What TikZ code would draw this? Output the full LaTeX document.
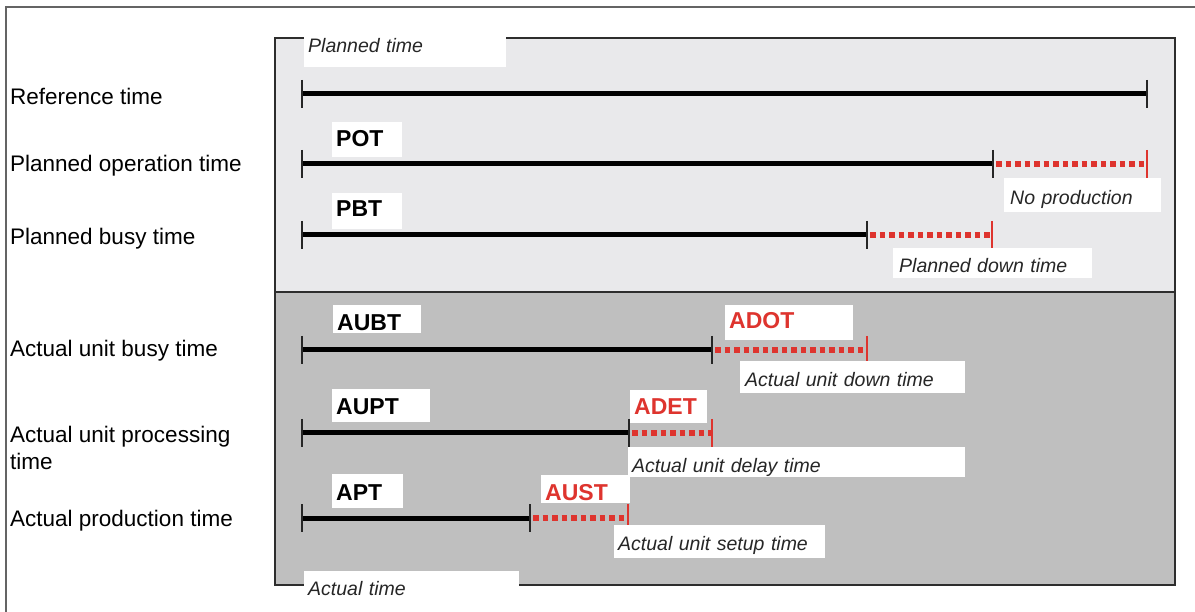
\documentclass[tikz,border=0pt]{standalone}
\usepackage{fontspec}
\setmainfont{Liberation Sans}
\begin{document}
\definecolor{planfill}{RGB}{233,233,235}
\definecolor{actfill}{RGB}{191,191,191}
\definecolor{lossred}{RGB}{222,52,46}
\definecolor{framegray}{RGB}{100,100,100}
\definecolor{boxedge}{RGB}{45,45,45}
\begin{tikzpicture}[x=1pt,y=-1pt,
  rowlabel/.style={anchor=base west, inner sep=0pt, font=\fontsize{22.5}{27}\selectfont, align=left},
  tag/.style={fill=white, inner xsep=4pt, inner ysep=0pt, anchor=base west, align=left},
  abbr/.style={tag, font=\fontsize{23}{26}\selectfont\bfseries},
  lossabbr/.style={abbr, text=lossred},
  note/.style={tag, font=\fontsize{19.5}{22}\selectfont\itshape, text=black!85},
  solidbar/.style={line width=5pt, black},
  lossbar/.style={line width=5.5pt, lossred, dash pattern=on 5.5pt off 4pt, dash phase=-3pt},
  tick/.style={line width=2pt, black!85},
  losstick/.style={line width=2pt, lossred}]
\useasboundingbox (0,0) rectangle (1195,612);

% outer frame
\draw[framegray, line width=2pt] (6,620) -- (6,7) -- (1200,7);

% planned and actual panels
\fill[planfill] (275,38) rectangle (1175,292);
\fill[actfill] (275,292) rectangle (1175,585);
\draw[boxedge, line width=2.5pt] (275,38) rectangle (1175,585);
\draw[boxedge, line width=2.5pt] (275,292) -- (1175,292);

% row captions
\node[rowlabel] (lref) at (10,105) {Reference time};
\node[rowlabel] (lpot) at (10,172) {Planned operation time};
\node[rowlabel] (lpbt) at (10,245) {Planned busy time};
\node[rowlabel] (laubt) at (10,357) {Actual unit busy time};
\node[rowlabel, anchor=north west] (laupt) at (10,426) {Actual unit processing\\time};
\node[rowlabel] (lapt) at (10,526) {Actual production time};

% time bar end points
\coordinate (ref0) at (302,94);  \coordinate (ref1) at (1147,94);
\coordinate (pot0) at (302,164); \coordinate (pot1) at (993,164); \coordinate (pot2) at (1147,164);
\coordinate (pbt0) at (302,235); \coordinate (pbt1) at (867,235); \coordinate (pbt2) at (992,235);
\coordinate (aubt0) at (302,350); \coordinate (aubt1) at (712,350); \coordinate (aubt2) at (867,350);
\coordinate (aupt0) at (302,433); \coordinate (aupt1) at (629,433); \coordinate (aupt2) at (712,433);
\coordinate (apt0) at (302,518); \coordinate (apt1) at (530,518); \coordinate (apt2) at (628,518);

% bars
\draw[solidbar] (ref0) -- (ref1);
\foreach \r in {pot,pbt,aubt,aupt,apt}{
  \draw[solidbar] (\r0) -- (\r1);
  \draw[lossbar] (\r1) -- (\r2);
}
% ticks
\foreach \p in {ref0,ref1,pot0,pot1,pbt0,pbt1,aubt0,aubt1,aupt0,aupt1,apt0,apt1}{
  \draw[tick] ([yshift=14pt]\p) -- ([yshift=-14pt]\p);
}
\foreach \p in {pot2,pbt2,aubt2,aupt2,apt2}{
  \draw[losstick] ([yshift=14pt]\p) -- ([yshift=-14pt]\p);
}

% panel titles
\node[note, text width=194pt, text height=18pt, text depth=14pt] (tplan) at (304,53) {Planned time};
\node[note, text width=207pt, text height=24pt, text depth=5pt] (tact) at (304,595) {Actual time};

% abbreviations
\node[abbr, text width=62pt, text height=25pt, text depth=10pt] (kpot) at (332,147) {POT};
\node[abbr, text width=62pt, text height=24pt, text depth=12pt] (kpbt) at (332,217) {PBT};
\node[abbr, text width=80pt, text height=26pt, text depth=2pt] (kaubt) at (333,331) {AUBT};
\node[abbr, text width=90pt, text height=26pt, text depth=7pt] (kaupt) at (332,415) {AUPT};
\node[abbr, text width=63pt, text height=26pt, text depth=8pt] (kapt) at (332,500) {APT};
\node[lossabbr, text width=120pt, text height=24pt, text depth=11pt] (kadot) at (725,329) {ADOT};
\node[lossabbr, text width=69pt, text height=25pt, text depth=8pt] (kadet) at (630,415) {ADET};
\node[lossabbr, text width=81pt, text height=25pt, text depth=3pt] (kaust) at (541,500) {AUST};

% loss descriptions
\node[note, inner xsep=6pt, text width=145pt, text height=27pt, text depth=7pt] (nnp) at (1004,205) {No production};
\node[note, inner xsep=6pt, text width=187pt, text height=25pt, text depth=5pt] (npdt) at (893,273) {Planned down time};
\node[note, inner xsep=5pt, text width=215pt, text height=26pt, text depth=6pt] (naudt) at (740,387) {Actual unit down time};
\node[note, text width=329pt, text height=25pt, text depth=5pt] (naudl) at (628,472) {Actual unit delay time};
\node[note, text width=203pt, text height=25pt, text depth=8pt] (naust) at (614,550) {Actual unit setup time};
\end{tikzpicture}
\end{document}
